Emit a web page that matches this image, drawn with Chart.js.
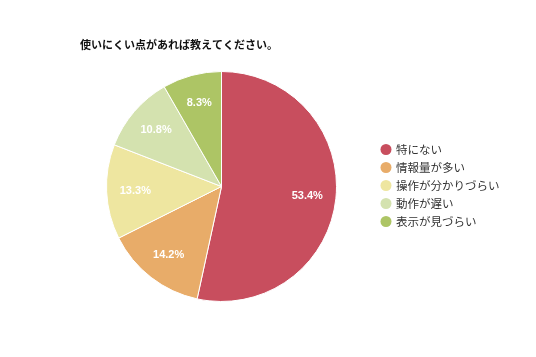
<!DOCTYPE html>
<html><head><meta charset="utf-8">
<script src="https://cdn.jsdelivr.net/npm/chart.js@4"></script>
<style>html,body{margin:0;padding:0;background:#fff;}#wrap{width:536px;height:357px;position:relative;}</style>
</head><body><div id="wrap"><canvas id="c" width="536" height="357"></canvas></div>
<script>
const chartTitle = '使いにくい点があれば教えてください。';
const categories = ['特にない','情報量が多い','操作が分かりづらい','動作が遅い','表示が見づらい'];
const values = [53.4, 14.2, 13.3, 10.8, 8.3];
const colors = ['#C84E5E','#E8AC69','#EEE6A0','#D4E2AF','#ADC565'];
const FONT = '"Noto Sans CJK JP", "Noto Sans", sans-serif';

const overlay = {
  id: 'overlay',
  afterDatasetsDraw(chart) {
    const ctx = chart.ctx;
    const meta = chart.getDatasetMeta(0);
    ctx.save();
    ctx.fillStyle = '#fff';
    ctx.font = 'bold 11px Arial, "Liberation Sans", sans-serif';
    ctx.textAlign = 'center';
    ctx.textBaseline = 'middle';
    meta.data.forEach((arc, i) => {
      const mid = (arc.startAngle + arc.endAngle) / 2;
      const r = arc.outerRadius * 0.75;
      ctx.fillText(values[i].toFixed(1) + '%', arc.x + Math.cos(mid) * r, arc.y + Math.sin(mid) * r);
    });
    // title
    ctx.fillStyle = '#111';
    ctx.font = 'bold 11px ' + FONT;
    ctx.textAlign = 'left';
    ctx.fillText(chartTitle, 80, 45);
    // legend
    ctx.font = '11.5px ' + FONT;
    categories.forEach((c, i) => {
      const y = 149.5 + i * 18;
      ctx.beginPath();
      ctx.fillStyle = colors[i];
      ctx.arc(386, y, 5.5, 0, Math.PI * 2);
      ctx.fill();
      ctx.fillStyle = '#333';
      ctx.fillText(c, 396, y);
    });
    ctx.restore();
  }
};

new Chart(document.getElementById('c'), {
  type: 'pie',
  data: { labels: categories, datasets: [{ data: values, backgroundColor: colors, borderColor: '#fff', borderWidth: 1 }] },
  options: {
    responsive: false,
    animation: false,
    layout: { padding: { left: 106, right: 199, top: 71, bottom: 55 } },
    plugins: { legend: { display: false }, title: { display: false }, tooltip: { enabled: false } }
  },
  plugins: [overlay]
});
</script></body></html>
